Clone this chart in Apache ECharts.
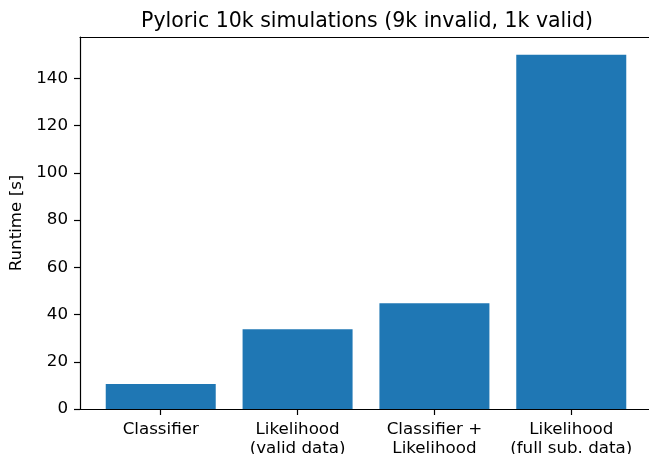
<!DOCTYPE html>
<html>
<head>
<meta charset="utf-8">
<script src="https://cdn.jsdelivr.net/npm/echarts@6/dist/echarts.min.js"></script>
<style>
html,body{margin:0;padding:0;background:#fff;}
#chart{width:649px;height:454px;}
</style>
</head>
<body>
<div id="chart"></div>
<script>
var categories = ["Classifier", "Likelihood\n(valid data)", "Classifier +\nLikelihood", "Likelihood\n(full sub. data)"];
var runtimes = [10.6, 33.8, 44.8, 150];
var yTicks = [0, 20, 40, 60, 80, 100, 120, 140];
var titleText = "Pyloric 10k simulations (9k invalid, 1k valid)";
var yName = "Runtime [s]";

var positions = categories.map(function (c, i) { return i; });
var barData = runtimes.map(function (v, i) { return [positions[i], v]; });

var font = "DejaVu Sans";
var chart = echarts.init(document.getElementById('chart'), null, {renderer: 'canvas'});
chart.setOption({
  animation: false,
  backgroundColor: '#ffffff',
  title: {
    text: titleText,
    left: 362, top: 6, textAlign: 'center',
    textStyle: {fontFamily: font, fontSize: 20.5, fontWeight: 'normal', color: '#000'}
  },
  grid: {left: 80, right: -3, top: 37, bottom: 45, containLabel: false, outerBoundsMode: 'none'},
  xAxis: [{
    type: 'value',
    min: -0.59, max: 3.59,
    splitLine: {show: false},
    axisLine: {show: true, onZero: false, lineStyle: {color: '#000', width: 1.2}},
    axisTick: {show: true, length: 6, lineStyle: {color: '#000', width: 1.2}, customValues: positions},
    axisLabel: {
      show: true, customValues: positions, margin: 11,
      fontFamily: font, fontSize: 16.7, color: '#000', lineHeight: 19,
      formatter: function (v) { return categories[Math.round(v)]; }
    }
  }, {
    type: 'value', position: 'top',
    min: -0.59, max: 3.59,
    splitLine: {show: false},
    axisLine: {show: true, onZero: false, lineStyle: {color: '#000', width: 1.2}},
    axisTick: {show: false}, axisLabel: {show: false}
  }],
  yAxis: {
    type: 'value',
    min: 0, max: 157.5,
    name: yName, nameLocation: 'middle', nameGap: 50, nameRotate: 90,
    nameTextStyle: {fontFamily: font, fontSize: 16.7, color: '#000'},
    splitLine: {show: false},
    axisLine: {show: true, onZero: false, lineStyle: {color: '#000', width: 1.2}},
    axisTick: {show: true, length: 6, lineStyle: {color: '#000', width: 1.2}, customValues: yTicks},
    axisLabel: {show: true, customValues: yTicks, margin: 12, fontFamily: font, fontSize: 16.7, color: '#000'}
  },
  series: [{
    type: 'bar',
    data: barData,
    barWidth: 110,
    itemStyle: {color: '#1f77b4'},
    xAxisIndex: 0
  }]
});
</script>
</body>
</html>
